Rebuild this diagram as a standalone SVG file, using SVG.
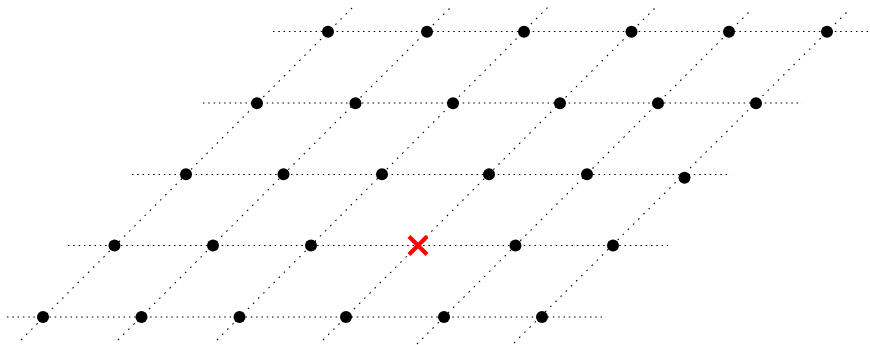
<svg xmlns="http://www.w3.org/2000/svg" width="870" height="345" viewBox="0 0 870 345">
<style>
.h{stroke:#000;stroke-width:1.1;stroke-dasharray:1.5 3.8;fill:none}
.d{stroke:#000;stroke-width:1.1;stroke-dasharray:1.6 5.7;fill:none}
.pt{fill:#000}
.x{stroke:#ff0000;stroke-width:4.2;fill:none}
</style>
<rect width="870" height="345" fill="#fff"/>
<g id="connectors">
<line class="h" x1="273" y1="31.5" x2="870" y2="31.5"/>
<line class="h" x1="203" y1="103" x2="802" y2="103"/>
<line class="h" x1="132" y1="174.5" x2="731" y2="174.5"/>
<line class="h" x1="68" y1="245.5" x2="668" y2="245.5"/>
<line class="h" x1="7" y1="317" x2="606" y2="317"/>
<line class="d" x1="21" y1="340" x2="354" y2="6"/>
<line class="d" x1="118" y1="340" x2="452" y2="6"/>
<line class="d" x1="217" y1="340" x2="549" y2="6"/>
<line class="d" x1="323" y1="340" x2="657" y2="6"/>
<line class="d" x1="417" y1="344" x2="750" y2="11"/>
<line class="d" x1="514" y1="343" x2="848" y2="11"/>
</g>
<g id="row1">
<circle class="pt" cx="328" cy="31.7" r="6"/>
<circle class="pt" cx="427" cy="31.7" r="6"/>
<circle class="pt" cx="524" cy="31.7" r="6"/>
<circle class="pt" cx="631.5" cy="31.7" r="6"/>
<circle class="pt" cx="729" cy="31.7" r="6"/>
<circle class="pt" cx="827" cy="31.7" r="6"/>
</g>
<g id="row2">
<circle class="pt" cx="257" cy="103.3" r="6"/>
<circle class="pt" cx="355.5" cy="103.3" r="6"/>
<circle class="pt" cx="453" cy="103.3" r="6"/>
<circle class="pt" cx="560" cy="103.3" r="6"/>
<circle class="pt" cx="658" cy="103.3" r="6"/>
<circle class="pt" cx="756" cy="103.3" r="6"/>
</g>
<g id="row3">
<circle class="pt" cx="186" cy="174.3" r="6"/>
<circle class="pt" cx="283.5" cy="174.3" r="6"/>
<circle class="pt" cx="382" cy="174.3" r="6"/>
<circle class="pt" cx="489" cy="174.3" r="6"/>
<circle class="pt" cx="587" cy="174.3" r="6"/>
<circle class="pt" cx="684.5" cy="177.7" r="6"/>
</g>
<g id="row4">
<circle class="pt" cx="114.5" cy="245.5" r="6"/>
<circle class="pt" cx="213" cy="245.5" r="6"/>
<circle class="pt" cx="311" cy="245.5" r="6"/>
<circle class="pt" cx="515.5" cy="245.5" r="6"/>
<circle class="pt" cx="613" cy="245.5" r="6"/>
</g>
<g id="row5">
<circle class="pt" cx="43" cy="317" r="6"/>
<circle class="pt" cx="141.5" cy="317" r="6"/>
<circle class="pt" cx="239.5" cy="317" r="6"/>
<circle class="pt" cx="346" cy="317" r="6"/>
<circle class="pt" cx="444" cy="317" r="6"/>
<circle class="pt" cx="542" cy="317" r="6"/>
</g>
<g id="marker-x">
<line class="x" x1="409" y1="236.5" x2="427" y2="254.5"/>
<line class="x" x1="427" y1="236.5" x2="409" y2="254.5"/>
</g>
</svg>
